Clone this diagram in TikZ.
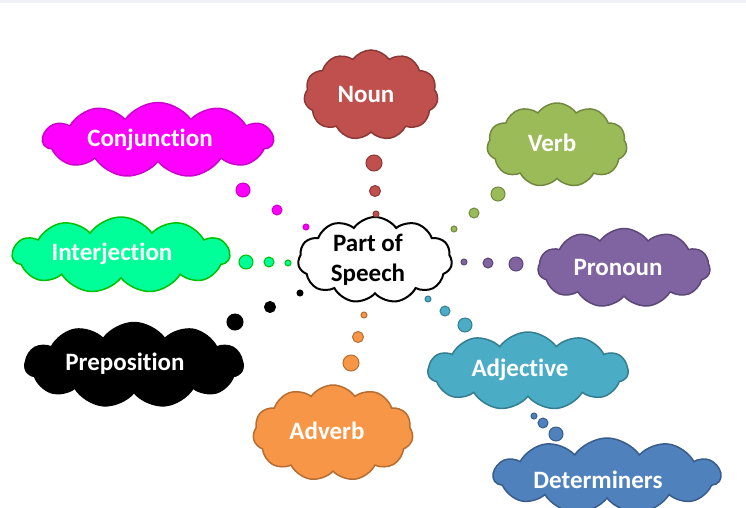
\documentclass[tikz,border=0pt]{standalone}
\usepackage{fontspec}
\setmainfont[Ligatures=NoCommon]{Carlito}
\usetikzlibrary{shapes.symbols}
\definecolor{nounF}{HTML}{C0504D}\definecolor{nounD}{HTML}{8C3836}
\definecolor{verbF}{HTML}{9BBB59}\definecolor{verbD}{HTML}{71893F}
\definecolor{pronF}{HTML}{8064A2}\definecolor{pronD}{HTML}{5C4776}
\definecolor{adjF}{HTML}{4BACC6}\definecolor{adjD}{HTML}{357D91}
\definecolor{detF}{HTML}{4F81BD}\definecolor{detD}{HTML}{385D8A}
\definecolor{advF}{HTML}{F79646}\definecolor{advD}{HTML}{B66D31}
\definecolor{intF}{HTML}{00FF99}\definecolor{intD}{HTML}{00C000}
\definecolor{conF}{HTML}{FF00FF}\definecolor{conD}{HTML}{CC00CC}
\definecolor{topband}{HTML}{EEF2F7}
\begin{document}
\begin{tikzpicture}[x=1pt,y=-1pt,
  cl/.style n args={4}{cloud, cloud puffs=11, cloud puff arc=110, cloud ignores aspect,
    inner sep=0pt, line width=1.5pt, draw=#1, fill=#2, minimum width=#3, minimum height=#4},
  txt/.style={text=white, font=\fontsize{25}{30}\selectfont\bfseries, align=center},
  bub/.style n args={3}{circle, inner sep=0pt, line width=1pt, draw=#1, fill=#2, minimum size=#3}]
\clip (0,0) rectangle (746,507);
\fill[white] (0,0) rectangle (746,507);
\fill[topband] (0,0) rectangle (746,2.5);

% central cloud
\node[cl={black}{white}{154}{86}, line width=2pt] (pos) at (375,260) {};
\node[txt, text=black] (pos-t) at (368,260) {Part of\\Speech};

% clouds
\node[cl={nounD}{nounF}{134}{90}] (noun) at (371,95) {};
\node[txt] (noun-t) at (366,94) {Noun};
\node[cl={verbD}{verbF}{140}{84}] (verb) at (557,145) {};
\node[txt] (verb-t) at (552,143) {Verb};
\node[cl={pronD}{pronF}{172}{79}] (pron) at (624,268) {};
\node[txt] (pron-t) at (618,267) {Pronoun};
\node[cl={adjD}{adjF}{200}{78}] (adj) at (528,371) {};
\node[txt] (adj-t) at (520,370) {Adjective};
\node[cl={detD}{detF}{227}{76}] (det) at (607,476) {};
\node[txt] (det-t) at (598,480) {Determiners};
\node[cl={advD}{advF}{160}{96}] (adv) at (333,433) {};
\node[txt] (adv-t) at (327,431) {Adverb};
\node[cl={black}{black}{218}{85}] (prep) at (134,365) {};
\node[txt] (prep-t) at (125,364) {Preposition};
\node[cl={intD}{intF}{217}{76}] (int) at (121,255) {};
\node[txt] (int-t) at (112,254) {Interjection};
\node[cl={conD}{conF}{230}{75}] (con) at (158,140) {};
\node[txt] (con-t) at (150,140) {Conjunction};

% bubbles
\node[bub={nounD}{nounF}{16}] (nb1) at (374,163) {};
\node[bub={nounD}{nounF}{11}] (nb2) at (375,191) {};
\node[bub={nounD}{nounF}{6}] (nb3) at (376,214) {};
\node[bub={verbD}{verbF}{14}] (vb1) at (498,194) {};
\node[bub={verbD}{verbF}{10}] (vb2) at (474,213) {};
\node[bub={verbD}{verbF}{6}] (vb3) at (454,229) {};
\node[bub={pronD}{pronF}{14}] (pb1) at (516,264) {};
\node[bub={pronD}{pronF}{10}] (pb2) at (488,263) {};
\node[bub={pronD}{pronF}{6}] (pb3) at (464,262) {};
\node[bub={adjD}{adjF}{14}] (ab1) at (465,325) {};
\node[bub={adjD}{adjF}{10}] (ab2) at (445,311) {};
\node[bub={adjD}{adjF}{6}] (ab3) at (428,299) {};
\node[bub={detD}{detF}{14}] (db1) at (556,434) {};
\node[bub={detD}{detF}{10}] (db2) at (543,423) {};
\node[bub={detD}{detF}{6}] (db3) at (534,416) {};
\node[bub={advD}{advF}{16}] (ob1) at (351,363) {};
\node[bub={advD}{advF}{11}] (ob2) at (358,337) {};
\node[bub={advD}{advF}{6}] (ob3) at (364,315) {};
\node[bub={black}{black}{16}] (rb1) at (235,322) {};
\node[bub={black}{black}{11}] (rb2) at (270,307) {};
\node[bub={black}{black}{6}] (rb3) at (300,293) {};
\node[bub={intD}{intF}{14}] (ib1) at (246,262) {};
\node[bub={intD}{intF}{10}] (ib2) at (269,262) {};
\node[bub={intD}{intF}{6}] (ib3) at (288,263) {};
\node[bub={conD}{conF}{14}] (cb1) at (243,190) {};
\node[bub={conD}{conF}{10}] (cb2) at (277,210) {};
\node[bub={conD}{conF}{6}] (cb3) at (306,227) {};
\end{tikzpicture}
\end{document}
